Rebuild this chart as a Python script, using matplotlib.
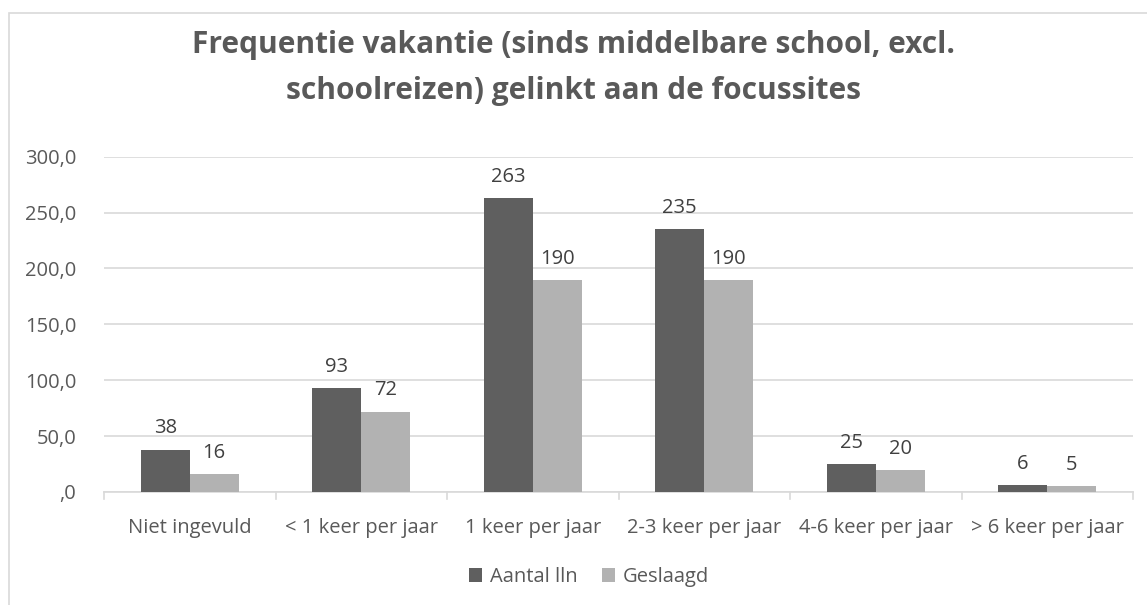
import matplotlib
matplotlib.use("Agg")
import matplotlib.pyplot as plt
import numpy as np
from matplotlib.patches import Rectangle

categories = ["Niet ingevuld", "< 1 keer per jaar", "1 keer per jaar",
              "2-3 keer per jaar", "4-6 keer per jaar", "> 6 keer per jaar"]
aantal_lln = [38, 93, 263, 235, 25, 6]
geslaagd = [16, 72, 190, 190, 20, 5]
series_names = ["Aantal lln", "Geslaagd"]
yticks = [0, 50, 100, 150, 200, 250, 300]
ytick_labels = [",0", "50,0", "100,0", "150,0", "200,0", "250,0", "300,0"]
title = "Frequentie vakantie (sinds middelbare school, excl.\nschoolreizen) gelinkt aan de focussites"

plt.rcParams['font.family'] = ['Open Sans', 'DejaVu Sans']

W, H = 1147, 605
fig = plt.figure(figsize=(W / 100, H / 100), dpi=100)
fig.patch.set_facecolor("white")

# chart border
fig.add_artist(Rectangle((9 / W, -0.1), 1.2, 1 - 12.5 / H + 0.1,
                         transform=fig.transFigure, fill=False,
                         edgecolor="#d9d9d9", linewidth=1.2))

ax = fig.add_axes([104 / W, 1 - 492 / H, (1133 - 104) / W, (492 - 156.7) / H])
dark = "#5f5f5f"
light = "#b2b2b2"
txt = "#595959"
lbl = "#404040"
fs = 14.5

x = np.arange(len(categories))
bw = 0.285
b1 = ax.bar(x - bw / 2, aantal_lln, bw, color=dark, label=series_names[0], zorder=3)
b2 = ax.bar(x + bw / 2, geslaagd, bw, color=light, label=series_names[1], zorder=3)

for bars, vals in ((b1, aantal_lln), (b2, geslaagd)):
    for r, v in zip(bars, vals):
        ax.annotate(f"{v}", (r.get_x() + r.get_width() / 2, v),
                    xytext=(0, 8), textcoords="offset points",
                    ha="center", va="bottom", fontsize=fs, color=lbl)

ax.set_xlim(-0.5, len(categories) - 0.5)
ax.set_ylim(0, 300)
ax.set_yticks(yticks)
ax.set_yticklabels(ytick_labels, fontsize=fs, color=txt)
ax.set_xticks(x)
ax.set_xticklabels(categories, fontsize=fs, color=txt)
ax.tick_params(axis="y", length=0, pad=20)
ax.tick_params(axis="x", length=0, pad=19)
ax.grid(axis="y", color="#d9d9d9", linewidth=1.2, zorder=0)
for s in ["top", "right", "left"]:
    ax.spines[s].set_visible(False)
ax.spines["bottom"].set_color("#d9d9d9")
ax.spines["bottom"].set_linewidth(1.2)
# category separator ticks
for b in np.arange(-0.5, len(categories), 1.0):
    ax.plot([b, b], [0, -6], color="#d9d9d9", linewidth=1.2,
            clip_on=False, zorder=2)

fig.text(573 / W, 1 - 68 / H, title, ha="center", va="center",
         fontsize=21.5, fontweight="bold", color=txt, linespacing=1.72)

leg = fig.legend(handles=[b1, b2], labels=series_names, loc="center",
                 bbox_to_anchor=(589 / W, 1 - 577 / H), ncol=2, frameon=False,
                 fontsize=fs, handlelength=0.65, handleheight=0.65,
                 handletextpad=0.4, columnspacing=1.2, labelcolor=txt)

fig.savefig("out.png", dpi=100, facecolor="white")
